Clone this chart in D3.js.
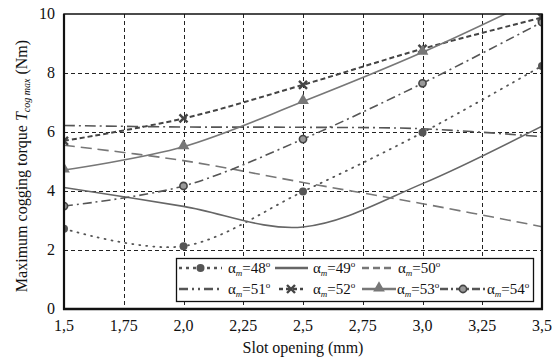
<!DOCTYPE html>
<html>
<head>
<meta charset="utf-8">
<script src="https://cdn.jsdelivr.net/npm/d3@7"></script>
<style>
  body { margin: 0; background: #fff; }
</style>
</head>
<body>
<div id="chart"></div>
<script>
// slot opening (mm) and max cogging torque (Nm) per magnet angle
var slot = [1.5, 2.0, 2.5, 3.0, 3.5];
var a48 = [2.72, 2.13, 3.98, 5.98, 8.24];
var a49 = [4.12, 3.48, 2.78, 4.25, 6.2];
var a50 = [5.55, 5.03, 4.29, 3.57, 2.79];
var a51 = [6.22, 6.17, 6.16, 6.11, 5.84];
var a52 = [5.70, 6.46, 7.60, 8.82, 9.88];
var a53 = [4.71, 5.50, 7.03, 8.70, 10.6];
var a54 = [3.49, 4.17, 5.76, 7.65, 9.72];
var angles = ["48", "49", "50", "51", "52", "53", "54"];

var xTicks = [1.5, 1.75, 2.0, 2.25, 2.5, 2.75, 3.0, 3.25, 3.5];
var xTickLabels = ["1,5", "1,75", "2,0", "2,25", "2,5", "2,75", "3,0", "3,25", "3,5"];
var yTicks = [0, 2, 4, 6, 8, 10];

var width = 557, height = 358;
var margin = {top: 14, right: 15, bottom: 49, left: 64};
var serif = "Liberation Serif";

var svg = d3.select("#chart")
  .append("svg")
  .attr("width", width)
  .attr("height", height)
  .style("font-family", serif);

var x = d3.scaleLinear().domain([1.5, 3.5]).range([margin.left, width - margin.right]);
var y = d3.scaleLinear().domain([0, 10]).range([height - margin.bottom, margin.top]);

svg.append("clipPath").attr("id", "plot")
  .append("rect")
  .attr("x", x(1.5)).attr("y", y(10))
  .attr("width", x(3.5) - x(1.5)).attr("height", y(0) - y(10));

// grid
var grid = svg.append("g").attr("stroke", "#222").attr("stroke-width", 1).attr("stroke-dasharray", "4,3");
grid.selectAll(".gx").data(xTicks.slice(1, -1)).enter().append("line")
  .attr("x1", function(d) { return Math.round(x(d)) + 0.5; })
  .attr("x2", function(d) { return Math.round(x(d)) + 0.5; })
  .attr("y1", y(10)).attr("y2", y(0));
grid.selectAll(".gy").data(yTicks.slice(1, -1)).enter().append("line")
  .attr("y1", function(d) { return Math.round(y(d)) + 0.5; })
  .attr("y2", function(d) { return Math.round(y(d)) + 0.5; })
  .attr("x1", x(1.5)).attr("x2", x(3.5));

// series
var series = [
  {vals: a48, color: "#555", w: 1.8, dash: "1,6", cap: "round", marker: "dot"},
  {vals: a49, color: "#666", w: 1.6, dash: null, marker: null},
  {vals: a50, color: "#777", w: 1.6, dash: "11,6", marker: null},
  {vals: a51, color: "#555", w: 1.6, dash: "11,4,2,4", marker: null},
  {vals: a52, color: "#444", w: 2, dash: "5,3", marker: "cross"},
  {vals: a53, color: "#777", w: 1.6, dash: null, marker: "tri"},
  {vals: a54, color: "#555", w: 1.6, dash: "9,4,2,4", marker: "ring"}
];

var line = d3.line()
  .x(function(d) { return x(d[0]); })
  .y(function(d) { return y(d[1]); })
  .curve(d3.curveCatmullRom.alpha(0));

var plot = svg.append("g").attr("clip-path", "url(#plot)");

series.forEach(function(s) {
  var pts = slot.map(function(v, i) { return [v, s.vals[i]]; });
  plot.append("path")
    .attr("d", line(pts))
    .attr("fill", "none")
    .attr("stroke", s.color)
    .attr("stroke-width", s.w)
    .attr("stroke-dasharray", s.dash)
    .attr("stroke-linecap", s.cap || "butt");
});

function drawMarker(g, type, cx, cy) {
  if (type === "dot") {
    g.append("circle").attr("cx", cx).attr("cy", cy).attr("r", 4).attr("fill", "#555");
  } else if (type === "ring") {
    g.append("circle").attr("cx", cx).attr("cy", cy).attr("r", 3.6)
      .attr("fill", "#999").attr("stroke", "#444").attr("stroke-width", 1.6);
  } else if (type === "cross") {
    var r = 4;
    g.append("path")
      .attr("d", "M" + (cx - r) + "," + (cy - r) + "L" + (cx + r) + "," + (cy + r) +
                 "M" + (cx - r) + "," + (cy + r) + "L" + (cx + r) + "," + (cy - r))
      .attr("stroke", "#444").attr("stroke-width", 2.4);
  } else if (type === "tri") {
    g.append("path")
      .attr("d", d3.symbol().type(d3.symbolTriangle).size(60)())
      .attr("transform", "translate(" + cx + "," + (cy - 1) + ")")
      .attr("fill", "#777");
  }
}

var markers = svg.append("g").attr("clip-path", "url(#plot)");
series.forEach(function(s) {
  if (!s.marker) return;
  slot.forEach(function(v, i) {
    if (s.vals[i] > 10) return;
    drawMarker(markers, s.marker, x(v), y(s.vals[i]));
  });
});

// frame
svg.append("rect")
  .attr("x", x(1.5)).attr("y", y(10))
  .attr("width", x(3.5) - x(1.5)).attr("height", y(0) - y(10))
  .attr("fill", "none").attr("stroke", "#111").attr("stroke-width", 1.5);
svg.append("line").attr("x1", x(1.5)).attr("x2", x(1.5)).attr("y1", y(10)).attr("y2", y(0) + 1)
  .attr("stroke", "#111").attr("stroke-width", 2.2);
svg.append("line").attr("x1", x(3.5)).attr("x2", x(3.5)).attr("y1", y(10)).attr("y2", y(0) + 1)
  .attr("stroke", "#111").attr("stroke-width", 2.2);
svg.append("line").attr("x1", x(1.5) - 1).attr("x2", x(3.5) + 1).attr("y1", y(0)).attr("y2", y(0))
  .attr("stroke", "#111").attr("stroke-width", 2.6);

// tick labels
svg.selectAll(".xl").data(xTicks).enter().append("text")
  .attr("x", function(d) { return x(d); })
  .attr("y", y(0) + 22)
  .attr("text-anchor", "middle")
  .style("font-family", serif)
  .attr("font-size", 16)
  .attr("fill", "#111")
  .text(function(d, i) { return xTickLabels[i]; });

svg.selectAll(".yl").data(yTicks).enter().append("text")
  .attr("x", x(1.5) - 9)
  .attr("y", function(d) { return y(d) + 5; })
  .attr("text-anchor", "end")
  .style("font-family", serif)
  .attr("font-size", 16)
  .attr("fill", "#111")
  .text(function(d) { return d; });

// axis titles
svg.append("text")
  .attr("x", (x(1.5) + x(3.5)) / 2)
  .attr("y", 353)
  .attr("text-anchor", "middle")
  .style("font-family", serif)
  .attr("font-size", 16)
  .attr("fill", "#111")
  .text("Slot opening (mm)");

var yt = svg.append("text")
  .attr("transform", "translate(27,166) rotate(-90)")
  .attr("text-anchor", "middle")
  .style("font-family", serif)
  .attr("font-size", 16)
  .attr("fill", "#111");
yt.append("tspan").text("Maximum cogging torque ");
yt.append("tspan").attr("font-style", "italic").text("T");
yt.append("tspan").attr("font-style", "italic").attr("font-size", 10).attr("dy", 3).text("cog max");
yt.append("tspan").attr("dy", -3).text(" (Nm)");

// legend
var legend = svg.append("g");
legend.append("rect")
  .attr("x", 176.5).attr("y", 258.5).attr("width", 357).attr("height", 43)
  .attr("fill", "#fff").attr("stroke", "#111").attr("stroke-width", 1.3);

var slots = [
  {row: 0, x1: 179, x2: 222, tx: 228},
  {row: 0, x1: 275, x2: 308, tx: 313},
  {row: 0, x1: 362, x2: 395, tx: 398},
  {row: 1, x1: 179, x2: 222, tx: 228},
  {row: 1, x1: 279, x2: 303, tx: 313},
  {row: 1, x1: 362, x2: 396, tx: 397},
  {row: 1, x1: 440, x2: 486, tx: 487}
];
var legendDash = ["3,4", null, "7,4", "9,4,2,4,2,4", "4,3", null, "8,3,2,3"];

series.forEach(function(s, i) {
  var p = slots[i];
  var ly = 268 + p.row * 21;
  legend.append("line")
    .attr("x1", p.x1).attr("x2", p.x2).attr("y1", ly).attr("y2", ly)
    .attr("stroke", s.color).attr("stroke-width", 2.6)
    .attr("stroke-dasharray", legendDash[i]);
  if (s.marker) drawMarker(legend, s.marker, (p.x1 + p.x2) / 2, ly);
  var t = legend.append("text")
    .attr("x", p.tx).attr("y", ly + 5)
    .style("font-family", serif)
    .attr("font-size", 15)
    .attr("fill", "#111");
  t.append("tspan").text("\u03b1");
  t.append("tspan").attr("font-style", "italic").attr("font-size", 9).attr("dy", 3).text("m");
  t.append("tspan").attr("dy", -3).text("=" + angles[i]);
  t.append("tspan").attr("font-size", 9).attr("dy", -6).text("o");
});
</script>
</body>
</html>
